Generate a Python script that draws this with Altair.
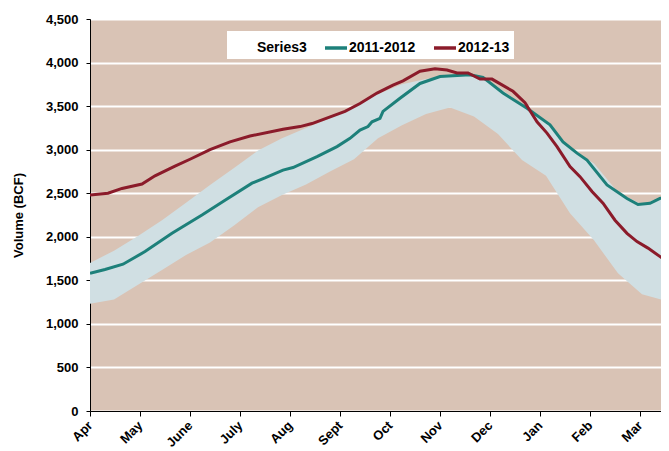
import altair as alt
import pandas as pd

MONTHS = ["Apr", "May", "June", "July", "Aug", "Sept", "Oct", "Nov", "Dec", "Jan", "Feb", "Mar"]

# band (Series3): min / max range, x in months since April 1
band_m = [0, 0.48, 0.96, 1.44, 1.92, 2.4, 2.88, 3.36, 3.84, 4.32, 4.8, 5.28, 5.76, 6.24,
          6.72, 7.2, 7.68, 8.16, 8.64, 9.12, 9.6, 10.08, 10.56, 11.04, 11.58]
band_max = [1700, 1840, 2010, 2190, 2390, 2595, 2790, 2990, 3130, 3250, 3360, 3490, 3640,
            3750, 3810, 3855, 3860, 3720, 3520, 3330, 3020, 2840, 2510, 2370, 2485]
band_min = [1230, 1280, 1450, 1620, 1790, 1935, 2130, 2340, 2480, 2600, 2750, 2890, 3130,
            3280, 3410, 3485, 3380, 3180, 2880, 2700, 2270, 1960, 1580, 1340, 1255]

# 2011-2012
s1_m = [0.0, 0.30, 0.66, 1.10, 1.64, 2.24, 2.70, 3.24, 3.50, 3.86, 4.06, 4.54, 4.94, 5.20,
        5.40, 5.56, 5.64, 5.80, 5.86, 6.20, 6.60, 7.00, 7.60, 7.86, 8.26, 8.74, 9.20, 9.46,
        9.74, 9.94, 10.34, 10.74, 10.96, 11.20, 11.40, 11.58]
s1_v = [1580, 1625, 1685, 1830, 2040, 2250, 2420, 2615, 2675, 2765, 2795, 2920, 3035, 3130,
        3225, 3265, 3320, 3360, 3440, 3590, 3760, 3840, 3860, 3830, 3650, 3475, 3285, 3090,
        2960, 2880, 2595, 2440, 2370, 2385, 2440, 2480]

# 2012-13
s2_m = [0.0, 0.36, 0.64, 1.04, 1.30, 1.70, 2.00, 2.40, 2.80, 3.20, 3.86, 4.20, 4.44, 5.10,
        5.40, 5.74, 6.06, 6.26, 6.60, 6.90, 7.14, 7.34, 7.56, 7.80, 8.04, 8.46, 8.70, 8.94,
        9.14, 9.34, 9.60, 9.80, 10.04, 10.26, 10.50, 10.74, 10.94, 11.16, 11.58]
s2_v = [2480, 2500, 2555, 2605, 2700, 2810, 2890, 3000, 3090, 3157, 3235, 3265, 3300, 3440,
        3530, 3650, 3740, 3790, 3900, 3930, 3915, 3880, 3880, 3810, 3810, 3670, 3540, 3320,
        3190, 3035, 2805, 2690, 2520, 2385, 2190, 2040, 1945, 1870, 1700]

SERIES = ["Series3", "2011-2012", "2012-13"]
COLORS = ["#ffffff", "#1d807a", "#8b1b2a"]

band_df = pd.DataFrame({"m": band_m, "lo": band_min, "hi": band_max})
lines_df = pd.concat([
    pd.DataFrame({"m": s1_m, "v": s1_v, "series": "2011-2012"}),
    pd.DataFrame({"m": s2_m, "v": s2_v, "series": "2012-13"}),
])

FONT = "Liberation Sans"
month_expr = "[" + ",".join("'%s'" % m for m in MONTHS) + "][datum.value]"

x_enc = alt.X("m:Q", scale=alt.Scale(domain=[0, 11.42], nice=False, zero=False),
              axis=alt.Axis(values=list(range(12)), labelExpr=month_expr, title=None,
                            grid=False, labelAngle=-45, labelAlign="right",
                            labelBaseline="middle", tickSize=5, labelPadding=7))
y_axis = alt.Axis(values=list(range(0, 4501, 500)), format=",d", title="Volume (BCF)",
                  grid=True, gridColor="white", gridWidth=2, tickSize=4,
                  labelPadding=8, titlePadding=20)

band = alt.Chart(band_df).mark_area(color="#d0dfe3", opacity=1, clip=True).encode(
    x=x_enc,
    y=alt.Y("lo:Q", scale=alt.Scale(domain=[0, 4500], nice=False), axis=y_axis),
    y2="hi:Q",
)

lines = alt.Chart(lines_df).mark_line(strokeWidth=3, clip=True).encode(
    x=x_enc,
    y=alt.Y("v:Q", scale=alt.Scale(domain=[0, 4500], nice=False), axis=y_axis),
    stroke=alt.Stroke("series:N", scale=alt.Scale(domain=SERIES, range=COLORS),
                      legend=alt.Legend(title=None, orient="none", legendX=137, legendY=12,
                                        direction="horizontal", symbolType="stroke",
                                        symbolSize=484, symbolStrokeWidth=3.5,
                                        labelOffset=0, columnPadding=11, padding=4,
                                        fillColor="white", labelFontSize=14,
                                        labelFontWeight="bold", labelFont=FONT,
                                        labelColor="black")),
    detail="series:N",
)

chart = alt.layer(band, lines).properties(
    width=571, height=392,
    padding={"left": 82, "top": 11, "right": 0, "bottom": 40},
    autosize=alt.AutoSizeParams(type="none"),
).configure_view(fill="#d9c3b5", stroke=None).configure_axis(
    labelFont=FONT, labelFontSize=13, labelFontWeight="bold", labelColor="black",
    titleFont=FONT, titleFontSize=13, titleFontWeight="bold", titleColor="black",
    domainColor="black", tickColor="black", domainWidth=1,
)

chart.save("out.html", embed_options={"renderer": "svg", "actions": False})
